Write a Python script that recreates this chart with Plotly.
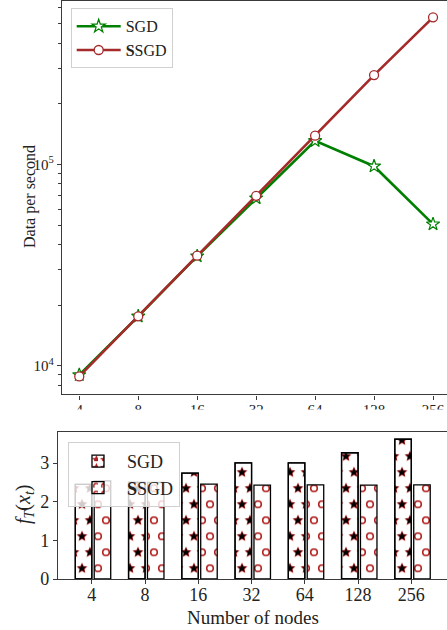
import math
import plotly.graph_objects as go

# ---------------- data ----------------
nodes = ["4", "8", "16", "32", "64", "128", "256"]
sgd_throughput = [9.0e3, 1.76e4, 3.50e4, 6.80e4, 1.31e5, 9.8e4, 5.05e4]
ssgd_throughput = [8.85e3, 1.76e4, 3.52e4, 6.98e4, 1.39e5, 2.78e5, 5.38e5]
sgd_f = [2.45, 2.50, 2.74, 3.01, 3.01, 3.27, 3.62]
ssgd_f = [2.54, 2.50, 2.46, 2.43, 2.44, 2.43, 2.44]
series_names = ["SGD", "<b>S</b>SGD"]
top_ytick_vals = [1e4, 1e5]
top_ytick_text = ["10<sup>4</sup>", "10<sup>5</sup>"]
bottom_ytick_vals = [0, 1, 2, 3]

W, H = 447, 630
FONT = "Liberation Serif"
GREEN = "#008000"
BROWN = "#A52A2A"
RED = "#B01E1E"
SPINE = "#3a3a3a"


def star(cx, cy, ro, ri):
    pts = []
    for k in range(10):
        r = ro if k % 2 == 0 else ri
        a = -math.pi / 2 + k * math.pi / 5
        pts.append(f"{cx + r * math.cos(a):.2f},{cy + r * math.sin(a):.2f}")
    return "M" + "L".join(pts) + "Z"


def ring(cx, cy, ro, ri):
    return (f"M{cx - ro:.2f},{cy:.2f}a{ro},{ro} 0 1,1 {2 * ro:.2f},0a{ro},{ro} 0 1,1 {-2 * ro:.2f},0Z"
            f"M{cx - ri:.2f},{cy:.2f}a{ri},{ri} 0 1,0 {2 * ri:.2f},0a{ri},{ri} 0 1,0 {-2 * ri:.2f},0Z")


S = 32
tile_pts = [(8, 8), (24, 8), (0, 24), (16, 24), (32, 24)]
star_outer = "".join(star(x, y, 5.8, 2.7) for x, y in tile_pts)
star_inner = "".join(star(x, y, 4.3, 1.9) for x, y in tile_pts)
ring_path = "".join(ring(x, y, 4.1, 2.5) for x, y in tile_pts)

fig = go.Figure()

# ---------------- top: throughput ----------------
fig.add_trace(go.Scatter(
    x=nodes, y=sgd_throughput, name=series_names[0], mode="lines+markers",
    line=dict(color=GREEN, width=2.6),
    marker=dict(symbol="star", size=10, color="white", line=dict(color=GREEN, width=1.2)),
    xaxis="x", yaxis="y", legend="legend"))
fig.add_trace(go.Scatter(
    x=nodes, y=ssgd_throughput, name=series_names[1], mode="lines+markers",
    line=dict(color=BROWN, width=2.6),
    marker=dict(symbol="circle", size=9, color="white", line=dict(color=BROWN, width=1.3)),
    xaxis="x", yaxis="y", legend="legend"))

# ---------------- bottom: f_T(x_t) ----------------
BW = 0.31
fig.add_trace(go.Bar(
    x=nodes, y=sgd_f, name=series_names[0], offset=-BW, width=BW,
    marker=dict(color="white", line=dict(color="black", width=1.3),
                pattern=dict(path=star_outer, size=S, fgcolor=RED, bgcolor="white",
                             fillmode="replace")),
    xaxis="x2", yaxis="y2", legend="legend2"))
fig.add_trace(go.Bar(
    x=nodes, y=sgd_f, name=series_names[0], offset=-BW, width=BW, showlegend=False,
    marker=dict(color="rgba(0,0,0,0)", line=dict(color="black", width=1.3),
                pattern=dict(path=star_inner, size=S, fgcolor="black", fillmode="replace")),
    xaxis="x2", yaxis="y2", hoverinfo="skip"))
fig.add_trace(go.Bar(
    x=nodes, y=ssgd_f, name=series_names[1], offset=0.045, width=BW,
    marker=dict(color="white", line=dict(color="black", width=1.3),
                pattern=dict(path=ring_path, size=S, fgcolor=RED, bgcolor="white",
                             fillmode="replace")),
    xaxis="x2", yaxis="y2", legend="legend2"))

minor_vals = [m * 10 ** k for k in (3, 4, 5) for m in range(2, 10)]

axis_common = dict(showline=True, linecolor=SPINE, linewidth=1.4, showgrid=False,
                   zeroline=False, ticks="outside", tickcolor=SPINE, tickwidth=1.2,
                   automargin=False)

fig.update_layout(
    template="none",
    width=W, height=H,
    margin=dict(l=0, r=0, t=0, b=0, pad=0, autoexpand=False),
    paper_bgcolor="white", plot_bgcolor="white",
    font=dict(family=FONT, color="#222"),
    barmode="group",
    xaxis=dict(domain=[62 / W, 1.0], anchor="y", type="category",
               range=[-0.293, 6.237], mirror=True, ticklen=4, ticklabelstandoff=-3,
               tickfont=dict(size=15), **axis_common),
    yaxis=dict(domain=[1 - 394.3 / H, 1 - 1.2 / H], anchor="x", type="log",
               range=[3.858, 5.811], tickmode="array", tickvals=top_ytick_vals,
               ticktext=top_ytick_text, ticklen=4, tickfont=dict(size=15),
               minor=dict(tickmode="array", tickvals=minor_vals, ticks="outside",
                          ticklen=2.5, tickcolor=SPINE, tickwidth=1),
               **axis_common),
    xaxis2=dict(domain=[58 / W, 1.0], anchor="y2", type="category",
                range=[-0.635, 6.67], mirror=True, ticklen=4, ticklabelstandoff=-5,
                tickfont=dict(size=18), **axis_common),
    yaxis2=dict(domain=[1 - 579 / H, 1 - 432.3 / H], anchor="x2",
                range=[0, 3.8], tickmode="array", tickvals=bottom_ytick_vals,
                ticklen=4, tickfont=dict(size=18), **axis_common),
    legend=dict(x=70.7 / W, y=1 - 8.3 / H, xanchor="left", yanchor="top",
                bgcolor="rgba(255,255,255,0.85)", bordercolor="#d0d0d0", borderwidth=1,
                font=dict(size=16, family=FONT), tracegroupgap=0, itemwidth=44),
    legend2=dict(x=68 / W, y=1 - 442 / H, xanchor="left", yanchor="top",
                 bgcolor="rgba(255,255,255,0.8)", bordercolor="#d0d0d0", borderwidth=1,
                 font=dict(size=18, family=FONT), tracegroupgap=0, itemwidth=48),
    shapes=[dict(type="rect", xref="paper", yref="paper", x0=0, x1=1,
                 y0=1 - 431 / H, y1=1 - 409.5 / H, fillcolor="white",
                 line=dict(width=0), layer="above")],
    annotations=[
        dict(text="Data per second", xref="paper", yref="paper",
             x=30 / W, y=1 - 197 / H, textangle=-90, showarrow=False,
             xanchor="center", yanchor="middle", font=dict(size=16, family=FONT)),
        dict(text="<i>f</i><sub><i>T</i></sub>(<i>x</i><sub><i>t</i></sub>)",
             xref="paper", yref="paper", x=24 / W, y=1 - 505 / H, textangle=-90,
             xanchor="center", yanchor="middle",
             showarrow=False, font=dict(size=20, family=FONT)),
        dict(text="Number of nodes", xref="paper", yref="paper",
             x=253 / W, y=1 - 617 / H, showarrow=False,
             xanchor="center", yanchor="middle", font=dict(size=19, family=FONT)),
    ],
)

fig.write_html("out.html", config={"displayModeBar": False},
               post_script="document.body.style.margin='0';document.body.style.overflow='hidden';")
